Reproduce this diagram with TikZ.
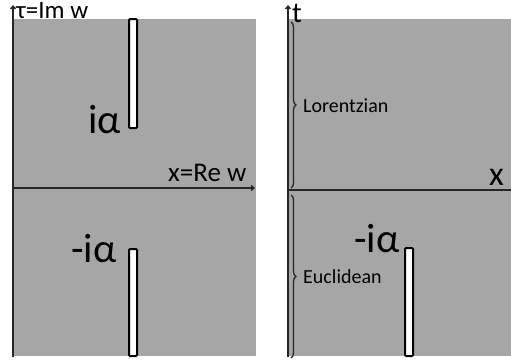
\documentclass[tikz,border=0pt]{standalone}
\usepackage{fontspec}
\setmainfont{Carlito}
\usetikzlibrary{decorations.pathreplacing,arrows.meta}
\definecolor{bg}{RGB}{166,166,166}
\tikzset{
  panel/.style={fill=bg, draw=none},
  slit/.style={draw=black, fill=white, line width=2pt, rounded corners=1pt},
  axis/.style={draw=black!85, line width=1.3pt, -{Straight Barb[length=3pt,width=5pt]}},
  axisplain/.style={draw=black!85, line width=1.3pt},
  lbl/.style={anchor=base west, inner sep=0pt, text=black},
  brc/.style={draw=black!85, line width=1.3pt, decorate, decoration={brace, amplitude=5pt}}
}
\begin{document}
\begin{tikzpicture}[x=1pt,y=-1pt]
\useasboundingbox (0,0) rectangle (511,362);
% panels
\fill[panel] (13,19) rectangle (256,356);
\fill[panel] (288,19) rectangle (511,356);
% slits
\draw[slit] (129,19) rectangle (137,128);
\draw[slit] (129,249) rectangle (137,356);
\draw[slit] (405,248) rectangle (413,356);
% axes
\coordinate (lb) at (13,357);
\coordinate (lt) at (13,5);
\coordinate (ll) at (13,188);
\coordinate (lr) at (255,188);
\draw[axis] (lb) -- (lt);
\draw[axis] (ll) -- (lr);
\coordinate (rb) at (288,357);
\coordinate (rt) at (288,5);
\coordinate (rl) at (288,190);
\coordinate (rr) at (511,190);
\draw[axis] (rb) -- (rt);
\draw[axisplain] (rl) -- (rr);
% braces
\coordinate (b1a) at (291,22);
\coordinate (b1b) at (291,188);
\coordinate (b2a) at (291,195);
\coordinate (b2b) at (291,358);
\draw[brc] (b1a) -- (b1b);
\draw[brc] (b2a) -- (b2b);
% labels
\node[lbl, font=\fontsize{25}{25}\selectfont] (tau) at (16,18) {τ=Im w};
\node[lbl, font=\fontsize{27}{27}\selectfont] (xre) at (168,181) {x=Re w};
\node[lbl, font=\fontsize{41}{41}\selectfont] (ia) at (88,133) {iα};
\node[lbl, font=\fontsize{41}{41}\selectfont] (mia) at (71,262) {-iα};
\node[lbl, font=\fontsize{41}{41}\selectfont] (mia2) at (354,252) {-iα};
\node[lbl, font=\fontsize{29}{29}\selectfont] (t) at (292,22) {t};
\node[lbl, font=\fontsize{34}{34}\selectfont] (x) at (489,185) {x};
\node[lbl, font=\fontsize{20}{20}\selectfont] (lor) at (303,112) {Lorentzian};
\node[lbl, font=\fontsize{20}{20}\selectfont] (euc) at (303,283) {Euclidean};
\end{tikzpicture}
\end{document}
